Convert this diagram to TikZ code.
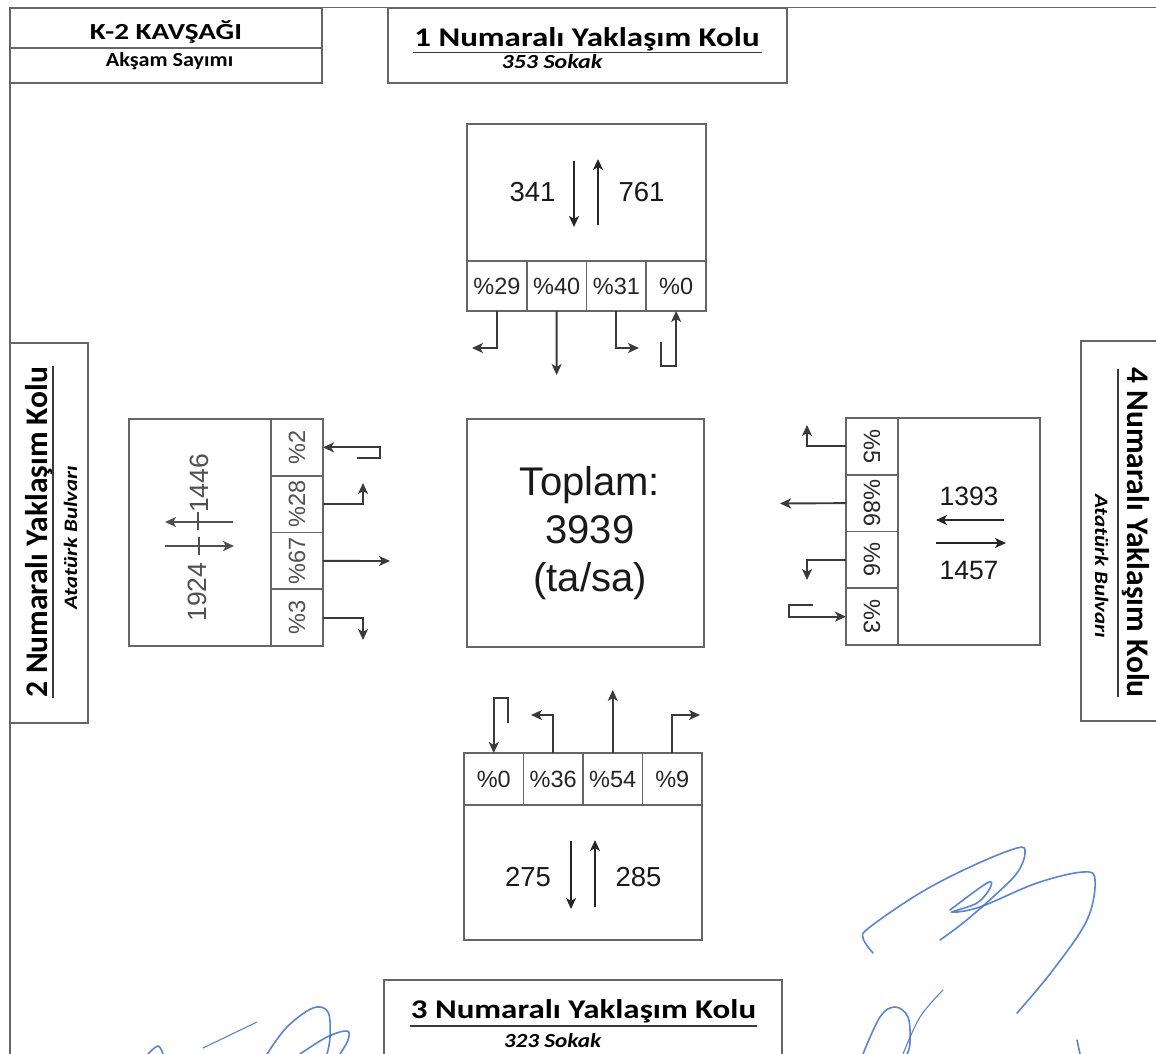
\documentclass[tikz,border=0pt]{standalone}
\usepackage{fontspec}
\setmainfont{Liberation Sans}
\newfontfamily\carlito{Carlito}
\usepackage{graphicx}
\usepackage{tikz}
\usetikzlibrary{shapes,arrows.meta}
\usetikzlibrary{positioning}
\definecolor{boxgray}{HTML}{666666}
\definecolor{flowgray}{HTML}{3A3A3A}
\definecolor{lefttext}{HTML}{505050}
\definecolor{signblue}{HTML}{3E70C9}
\newcommand{\koltext}[3]{{\carlito\bfseries\fontsize{#1}{#1}\selectfont\scalebox{#2}[1]{#3}}}
\newcommand{\yoltext}[3]{{\carlito\bfseries\itshape\fontsize{#1}{#1}\selectfont\scalebox{#2}[1]{#3}}}
\tikzset{
    frame/.style={draw=boxgray,line width=1.8pt},
    labelbox/.style={draw=boxgray,line width=1.8pt,inner sep=0pt,outer sep=0pt},
    underline/.style={draw=flowgray,line width=1.8pt},
}

\begin{document}
\begin{tikzpicture}[x=1pt,y=-1pt,>={Stealth[length=11pt,width=10pt,inset=3pt]},
    bigbox/.style={draw=boxgray,line width=1.8pt,inner sep=0pt,outer sep=0pt},
    cell/.style={draw=boxgray,line width=1.6pt,inner sep=0pt,outer sep=0pt,font=\fontsize{23.5}{26}\selectfont,text=black!85},
    flow/.style={->,draw=flowgray,line width=1.9pt},
    dirarrow/.style={->,draw=black!85,line width=2.4pt},
    count/.style={font=\fontsize{27.5}{30}\selectfont,text=black!90},
    sign/.style={draw=signblue,line width=1.6pt,line cap=round,opacity=0.85}]

\useasboundingbox (0,0) rectangle (1156,1054);
\clip (0,0) rectangle (1156,1054);
\fill[white] (0,0) rectangle (1156,1054);

\draw[frame] (1156,7.5) -- (10,7.5) -- (10,1054);

% baslik kutulari
\node[labelbox,minimum width=312,minimum height=75] (kbox) at (166,45.5) {};
\draw[frame] (kbox.north west) ++(0,40) -- ++(312,0);
\node[anchor=base] (kname) at (166,39.5) {\koltext{23}{1.27}{K-2 KAVŞAĞI}};
\node[anchor=base] (ksayim) at (169.5,66.5) {\koltext{20}{1.11}{Akşam Sayımı}};

\node[labelbox,minimum width=399,minimum height=75] (kol1) at (587.5,45.5) {};
\node[anchor=base] (kol1title) at (587,46.5) {\koltext{27}{1.22}{1 Numaralı Yaklaşım Kolu}};
\draw[underline] (413,52.5) -- (762,52.5);
\node[anchor=base] (kol1yol) at (552,69) {\yoltext{20}{1.2}{353 Sokak}};

\node[labelbox,minimum width=398,minimum height=100] (kol3) at (582.6,1030) {};
\node[anchor=base] (kol3title) at (583.5,1018) {\koltext{27}{1.22}{3 Numaralı Yaklaşım Kolu}};
\draw[underline] (410,1026) -- (757,1026);
\node[anchor=base] (kol3yol) at (552.5,1047) {\yoltext{20}{1.16}{323 Sokak}};

\node[labelbox,minimum width=78,minimum height=380] (kol2) at (49,533) {};
\node[anchor=base,rotate=90] (kol2title) at (47,532) {\koltext{31.5}{1}{2 Numaralı Yaklaşım Kolu}};
\draw[underline] (53,366) -- (53,698);
\node[anchor=base,rotate=90] (kol2yol) at (77,537.5) {\yoltext{19}{1.2}{Atatürk Bulvarı}};

\node[labelbox,minimum width=89,minimum height=380] (kol4) at (1125.5,531) {};
\node[anchor=base,rotate=-90] (kol4title) at (1127,532.5) {\koltext{31.5}{1}{4 Numaralı Yaklaşım Kolu}};
\draw[underline] (1118,369) -- (1118,697);
\node[anchor=base,rotate=-90] (kol4yol) at (1095,566.5) {\yoltext{19}{1.2}{Atatürk Bulvarı}};

% toplam
\node[bigbox,minimum width=237,minimum height=228] (cbox) at (585.5,533) {};
\node[align=center,font=\fontsize{40}{48}\selectfont,text=black!90] (toplam) at (590,533) {Toplam:\\3939\\(ta/sa)};

% 1 numarali kol
\node[bigbox,minimum width=239,minimum height=137] (nbox) at (586.5,192.5) {};
\node[cell,minimum width=59.75,minimum height=50,below right=0pt and 0pt of nbox.south west] (n1) {\%29};
\node[cell,minimum width=59.75,minimum height=50,right=0pt of n1] (n2) {\%40};
\node[cell,minimum width=59.75,minimum height=50,right=0pt of n2] (n3) {\%31};
\node[cell,minimum width=59.75,minimum height=50,right=0pt of n3] (n4) {\%0};
\node[count] (nin) at (532.5,192) {341};
\node[count] (nout) at (641.5,192) {761};
\draw[dirarrow] (574,161) -- (574,227);
\draw[dirarrow] (598,225) -- (598,159);
\coordinate (n1end) at (472,348);
\coordinate (n2end) at (556.6,375);
\coordinate (n3end) at (639,348);
\coordinate (n4start) at (661,342);
\draw[flow] (n1.south) |- (n1end);
\draw[flow] (n2.south) -- (n2end);
\draw[flow] (n3.south) |- (n3end);
\draw[flow] (n4start) -- ++(0,24) -| (n4.south);

% 2 numarali kol
\node[bigbox,minimum width=142,minimum height=227] (wbox) at (200,532.5) {};
\node[cell,text=lefttext,minimum width=52,minimum height=56.75,below right=0pt and 0pt of wbox.north east] (w1) {\rotatebox{90}{\%2}};
\node[cell,text=lefttext,minimum width=52,minimum height=56.75,below=0pt of w1] (w2) {\rotatebox{90}{\%28}};
\node[cell,text=lefttext,minimum width=52,minimum height=56.75,below=0pt of w2] (w3) {\rotatebox{90}{\%67}};
\node[cell,text=lefttext,minimum width=52,minimum height=56.75,below=0pt of w3] (w4) {\rotatebox{90}{\%3}};
\node[count,rotate=90,text=lefttext,font=\fontsize{26.5}{30}\selectfont] (wout) at (199,483.5) {1446};
\node[count,rotate=90,text=lefttext,font=\fontsize{26.5}{30}\selectfont] (win) at (197.5,592) {1924};
\draw[dirarrow,draw=lefttext] (233,522) -- (165,522);
\draw[dirarrow,draw=lefttext] (165,546) -- (234,546);
\draw[draw=lefttext,line width=1.2pt] (198,512) -- (198,530);
\draw[draw=lefttext,line width=1.2pt] (199,537) -- (199,555);
\coordinate (w1start) at (357,458);
\coordinate (w2end) at (363,483);
\coordinate (w3end) at (390,561);
\coordinate (w4end) at (363,640);
\draw[flow] (w1start) -- ++(23,0) |- (w1.east);
\draw[flow] (w2.east) -| (w2end);
\draw[flow] (w3.east) -- (w3end);
\draw[flow] (w4.east) -| (w4end);

% 4 numarali kol
\node[bigbox,minimum width=142,minimum height=227] (ebox) at (969,531.5) {};
\node[cell,minimum width=52,minimum height=56.75,below left=0pt and 0pt of ebox.north west] (e1) {\rotatebox{-90}{\%5}};
\node[cell,minimum width=52,minimum height=56.75,below=0pt of e1] (e2) {\rotatebox{-90}{\%86}};
\node[cell,minimum width=52,minimum height=56.75,below=0pt of e2] (e3) {\rotatebox{-90}{\%6}};
\node[cell,minimum width=52,minimum height=56.75,below=0pt of e3] (e4) {\rotatebox{-90}{\%3}};
\node[count,font=\fontsize{26.5}{30}\selectfont] (ein) at (969,496) {1393};
\node[count,font=\fontsize{26.5}{30}\selectfont] (eout) at (969,571) {1457};
\draw[dirarrow] (1004,520) -- (936,520);
\draw[dirarrow] (936,543) -- (1006,543);
\coordinate (e1end) at (807,425);
\coordinate (e2end) at (780,503.5);
\coordinate (e3end) at (807,580);
\coordinate (e4start) at (813,605);
\draw[flow] (e1.west) -| (e1end);
\draw[flow] (e2.west) -- (e2end);
\draw[flow] (e3.west) -| (e3end);
\draw[flow] (e4start) -- ++(-24,0) |- (e4.west);

% 3 numarali kol
\node[bigbox,minimum width=238,minimum height=135] (sbox) at (583,872.5) {};
\node[cell,minimum width=59.5,minimum height=52,above right=0pt and 0pt of sbox.north west] (s1) {\%0};
\node[cell,minimum width=59.5,minimum height=52,right=0pt of s1] (s2) {\%36};
\node[cell,minimum width=59.5,minimum height=52,right=0pt of s2] (s3) {\%54};
\node[cell,minimum width=59.5,minimum height=52,right=0pt of s3] (s4) {\%9};
\node[count] (sin) at (528,877) {275};
\node[count] (sout) at (638.5,877) {285};
\draw[dirarrow] (571,841) -- (571,909);
\draw[dirarrow] (595,907) -- (595,840);
\coordinate (s1start) at (508,723);
\coordinate (s2end) at (531,715);
\coordinate (s3end) at (612.75,690);
\coordinate (s4end) at (700,715);
\draw[flow] (s1start) -- ++(0,-25) -| (s1.north);
\draw[flow] (s2.north) |- (s2end);
\draw[flow] (s3.north) -- (s3end);
\draw[flow] (s4.north) |- (s4end);

% imzalar
\draw[sign] plot[smooth,tension=0.6] coordinates {(873,953) (863,938) (870,927) (920,893) (970,867) (1017,848) (1025,853) (1017,873) (993,897) (963,923) (940,940)};
\draw[sign] plot[smooth,tension=0.6] coordinates {(950,910) (987,883) (990,888) (977,903) (952,912) (980,907) (1037,883) (1083,872) (1095,880) (1087,920) (1053,970) (1017,1013)};
\draw[sign] plot[smooth,tension=0.6] coordinates {(863,1054) (880,1017) (895,1007) (908,1017) (910,1043) (907,1054)};
\draw[sign,line width=1.1pt] plot[smooth,tension=0.6] coordinates {(943,990) (920,1017) (903,1054)};
\draw[sign] (1077,1040) -- (1080,1054);
\draw[sign] plot[smooth,tension=0.6] coordinates {(148,1054) (158,1046) (163,1054)};
\draw[sign,line width=1.1pt] plot[smooth,tension=0.6] coordinates {(203,1048) (230,1035) (257,1022)};
\draw[sign] plot[smooth,tension=0.6] coordinates {(267,1054) (287,1027) (313,1008) (328,1012) (330,1037) (327,1054)};
\draw[sign] plot[smooth,tension=0.6] coordinates {(300,1054) (327,1037) (347,1031) (348,1040) (340,1054)};
\end{tikzpicture}
\end{document}
